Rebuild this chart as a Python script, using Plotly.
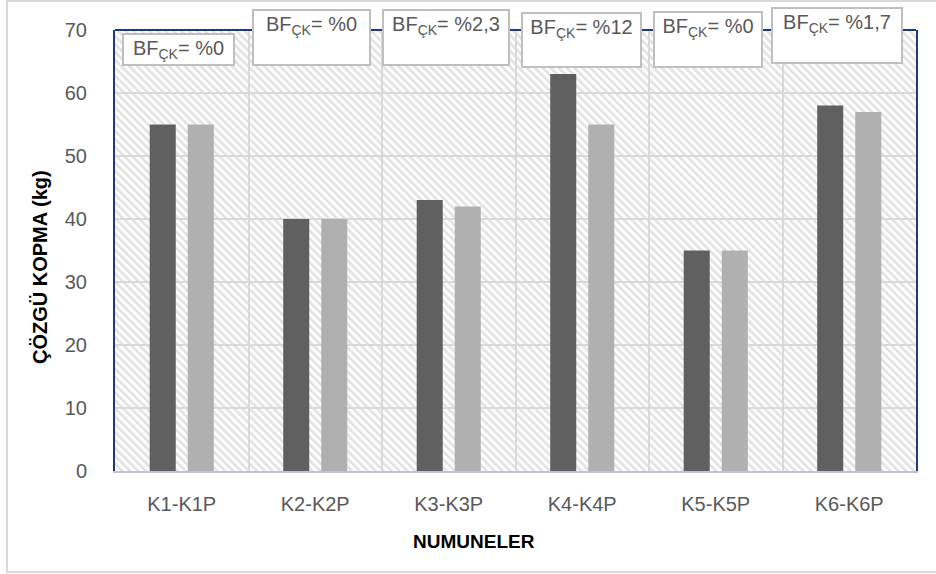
import base64
import plotly.graph_objects as go

# --- data ---------------------------------------------------------------
categories = ["K1-K1P", "K2-K2P", "K3-K3P", "K4-K4P", "K5-K5P", "K6-K6P"]
kopma_k = [55, 40, 43, 63, 35, 58]      # dark bars
kopma_kp = [55, 40, 42, 55, 35, 57]     # light bars
bf_values = ["%0", "%0", "%2,3", "%12", "%0", "%1,7"]

y_ticks = [0, 10, 20, 30, 40, 50, 60, 70]

# --- geometry / style ---------------------------------------------------
W, H = 936, 574
M_L, M_R, M_T, M_B = 115, 20, 30, 103
PW, PH = W - M_L - M_R, H - M_T - M_B

FONT = "Liberation Sans, Arial, sans-serif"
TXT = "#595959"
NAVY = "#1f3a7a"
GRID = "#d9d9d9"

# label box placement: (x shift from category centre, box top px, box w, box h)
box_style = [(-3, 33, 113, 33), (-4, 9, 119, 57), (-3, 9, 128, 57),
             (-1, 12, 121, 56), (-8, 11, 110, 57), (-12, 7, 132, 57)]


def px_to_paper_y(py):
    return (H - M_B - py) / PH


def px_to_paper_x(px):
    return (px - M_L) / PW


# diagonal hatch used as plot-area fill
svg = (
    f'<svg xmlns="http://www.w3.org/2000/svg" width="{PW}" height="{PH}">'
    '<defs><pattern id="h" width="5.6" height="5.6" patternUnits="userSpaceOnUse" '
    'patternTransform="rotate(-45)">'
    '<rect width="5.6" height="5.6" fill="#ffffff"/>'
    '<rect width="2.6" height="5.6" fill="#e2e2e2"/></pattern></defs>'
    '<rect width="100%" height="100%" fill="url(#h)"/></svg>'
)
hatch_src = "data:image/svg+xml;base64," + base64.b64encode(svg.encode()).decode()

fig = go.Figure()
fig.add_trace(go.Bar(x=categories, y=kopma_k, name="K",
                     marker=dict(color="#606060", line=dict(width=0))))
fig.add_trace(go.Bar(x=categories, y=kopma_kp, name="KP",
                     marker=dict(color="#b0b0b0", line=dict(width=0))))

annotations = []
for cat, bf, (dx, top, bw, bh) in zip(categories, bf_values, box_style):
    annotations.append(dict(
        x=cat, xref="x", xshift=dx,
        y=px_to_paper_y(top), yref="paper",
        xanchor="center", yanchor="top",
        text=f"BF<sub>ÇK</sub>= {bf}",
        showarrow=False,
        font=dict(family=FONT, size=20, color=TXT),
        bgcolor="#ffffff", bordercolor="#bfbfbf", borderwidth=2, borderpad=2,
        width=bw - 8, height=bh - 8, valign="top", align="center",
    ))

# axis titles
annotations.append(dict(
    x=px_to_paper_x(40), y=px_to_paper_y(267), xref="paper", yref="paper",
    text="<b>ÇÖZGÜ KOPMA (kg)</b>", textangle=-90, showarrow=False,
    font=dict(family=FONT, size=20, color="#000000"),
    xanchor="center", yanchor="middle",
))
annotations.append(dict(
    x=px_to_paper_x(474), y=px_to_paper_y(541), xref="paper", yref="paper",
    text="<b>NUMUNELER</b>", showarrow=False,
    font=dict(family=FONT, size=19, color="#000000"),
    xanchor="center", yanchor="middle",
))

shapes = [
    # outer chart frame (right edge runs off the page)
    dict(type="rect", xref="paper", yref="paper",
         x0=px_to_paper_x(7), x1=px_to_paper_x(1000),
         y0=px_to_paper_y(572), y1=px_to_paper_y(1),
         line=dict(color="#d9d9d9", width=2), fillcolor="rgba(0,0,0,0)",
         layer="below"),
    # top edge of plot frame
    dict(type="line", xref="paper", yref="paper", x0=0, x1=1, y0=1, y1=1,
         line=dict(color=NAVY, width=2), layer="above"),
]

fig.update_layout(
    width=W, height=H,
    margin=dict(l=M_L, r=M_R, t=M_T, b=M_B),
    paper_bgcolor="#ffffff", plot_bgcolor="#ffffff",
    barmode="group", bargap=0.43, bargroupgap=0.316,
    showlegend=False,
    font=dict(family=FONT, size=20, color=TXT),
    annotations=annotations, shapes=shapes,
    images=[dict(source=hatch_src, xref="paper", yref="paper",
                 x=0, y=1, sizex=1, sizey=1, xanchor="left", yanchor="top",
                 sizing="stretch", layer="below")],
)
fig.update_xaxes(
    type="category", showgrid=True, gridcolor=GRID, gridwidth=1.5,
    tickson="boundaries", ticks="", showline=True, linecolor="#bcc3d1",
    linewidth=2, tickfont=dict(family=FONT, size=20, color=TXT),
    ticklabelstandoff=14,
)
fig.update_yaxes(
    range=[0, 70], tickvals=y_ticks, showgrid=True, gridcolor=GRID,
    gridwidth=1.5, zeroline=False, showline=True, linecolor=NAVY,
    linewidth=2, mirror=True, ticks="",
    tickfont=dict(family=FONT, size=20, color=TXT), ticklabelstandoff=22,
)

fig.write_html("out.html")
